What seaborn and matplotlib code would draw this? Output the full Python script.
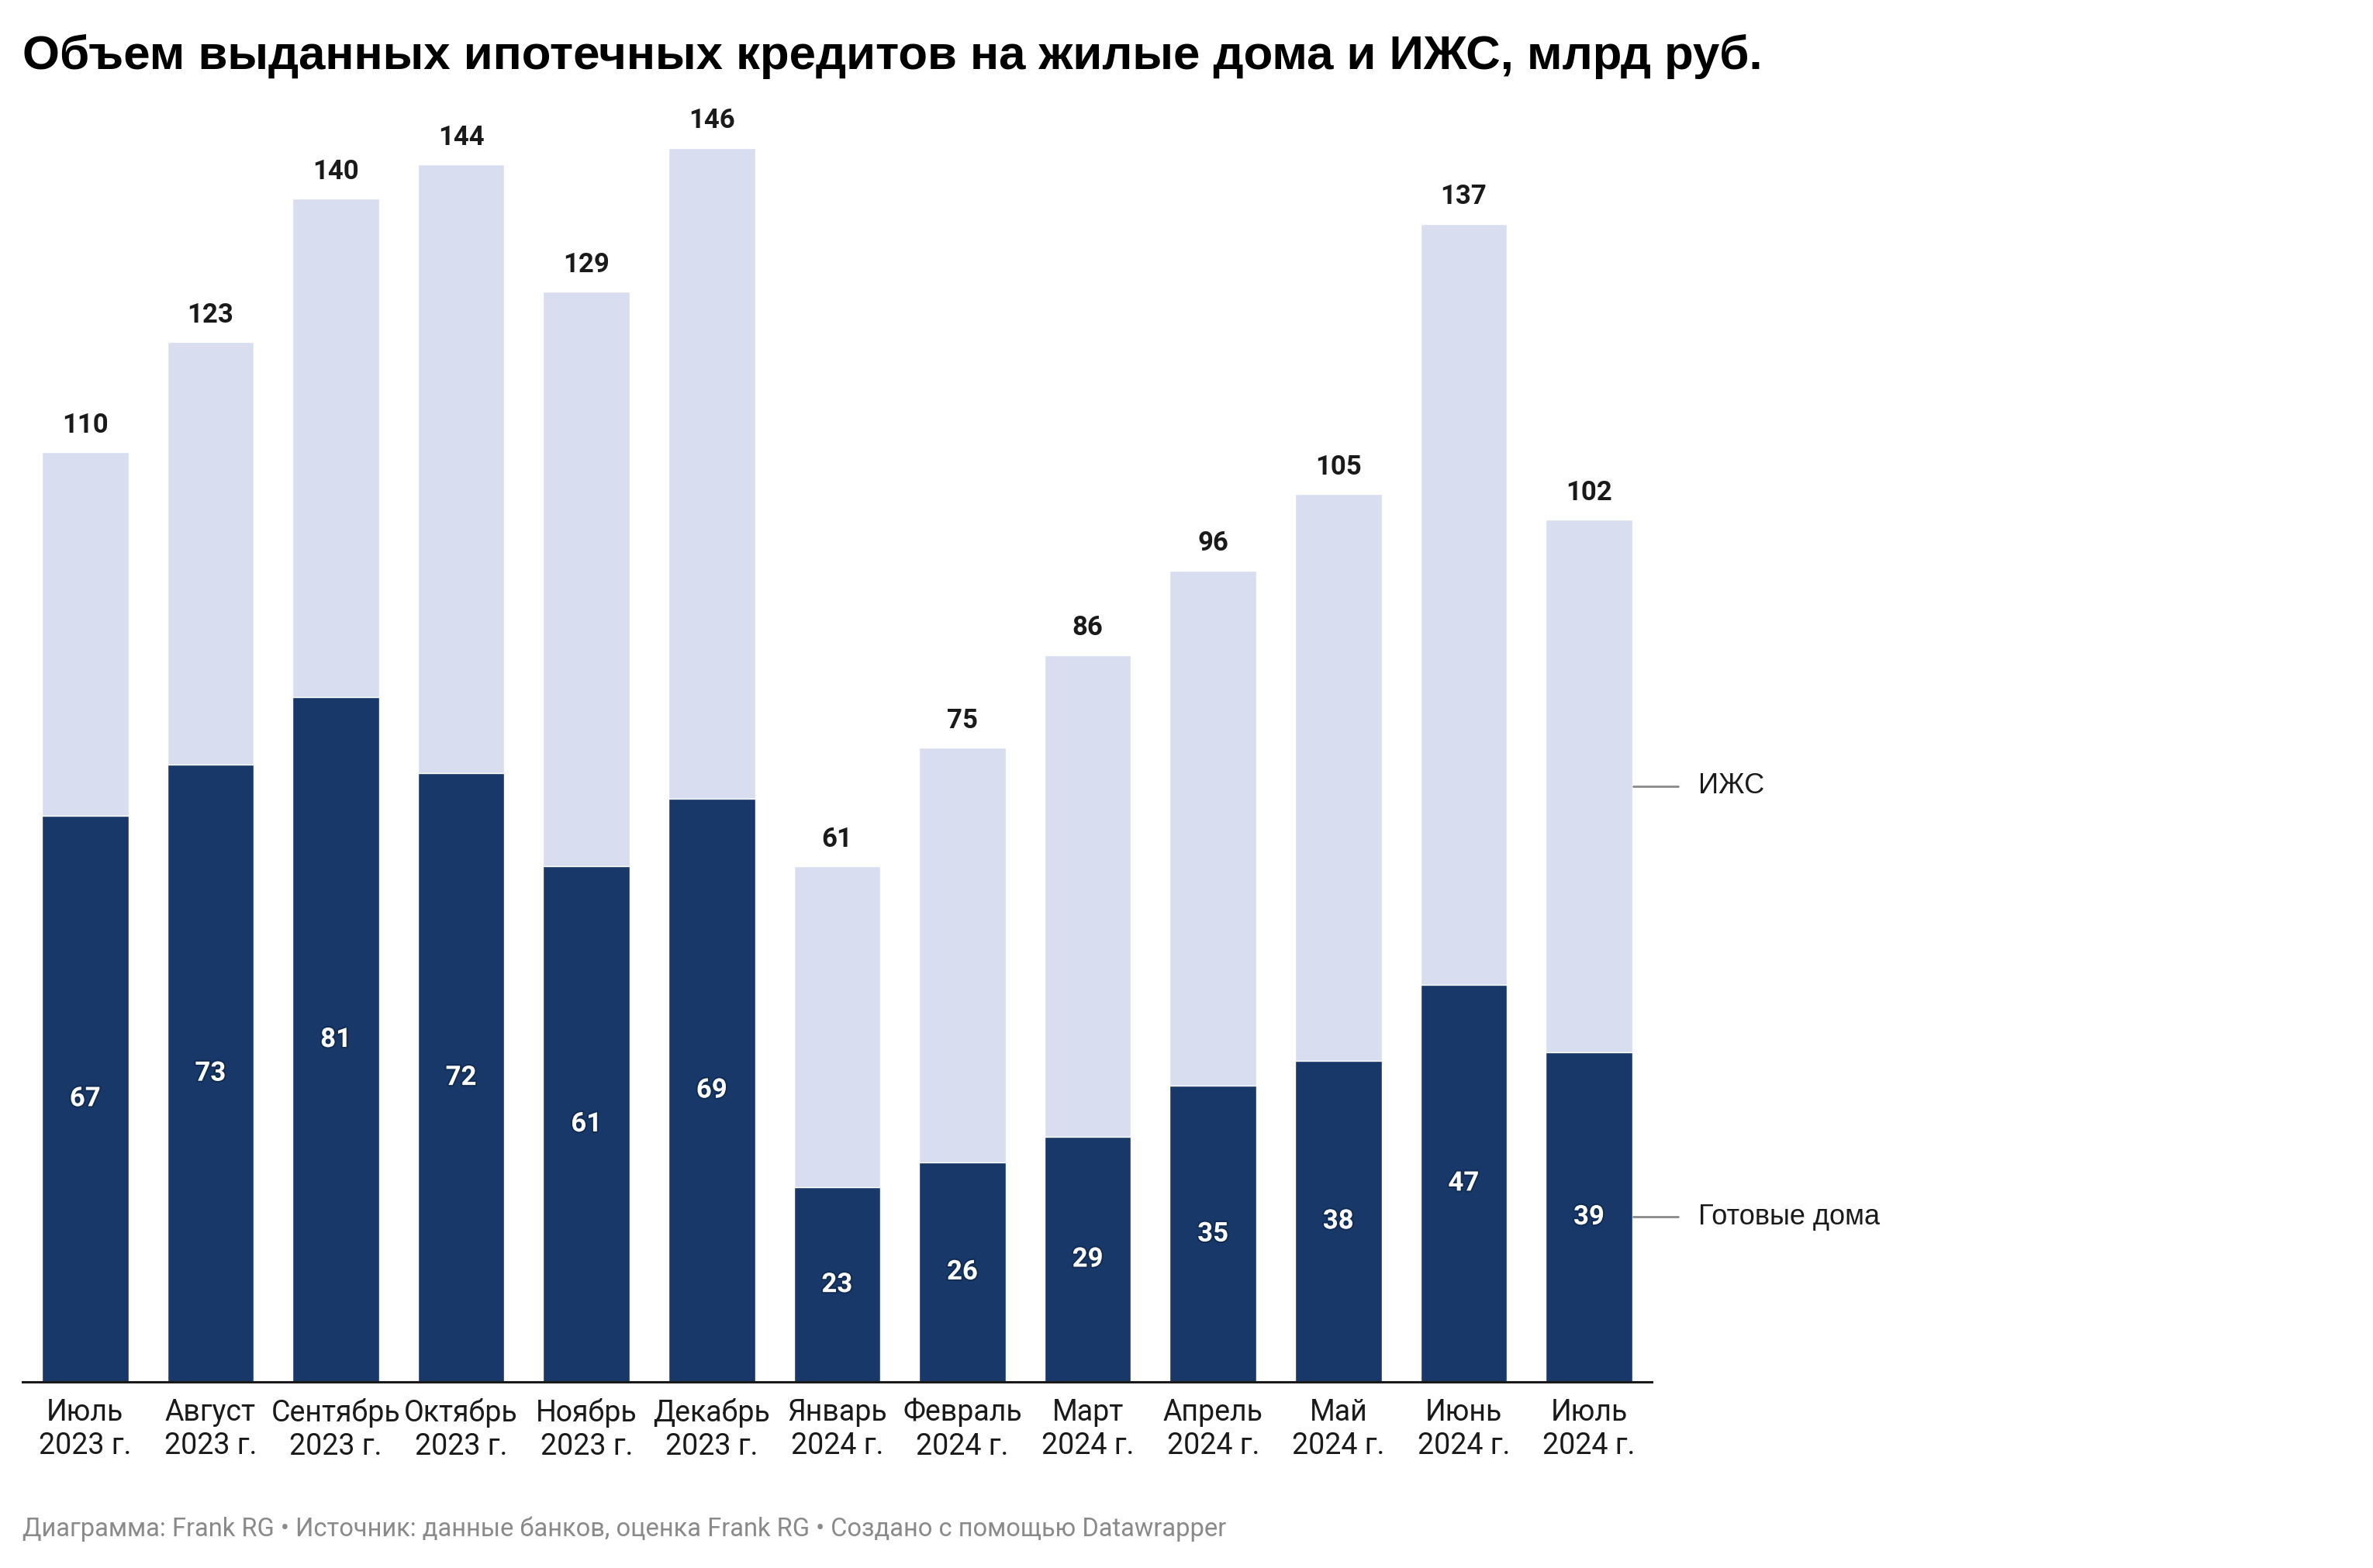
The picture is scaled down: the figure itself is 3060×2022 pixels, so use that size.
import matplotlib
matplotlib.use("Agg")
import matplotlib.pyplot as plt
import matplotlib.patheffects as pe
import pandas as pd
import seaborn as sns

# ── data ─────────────────────────────────────────────────────────────────────
months = ["Июль\n2023 г.", "Август\n2023 г.", "Сентябрь\n2023 г.", "Октябрь\n2023 г.",
          "Ноябрь\n2023 г.", "Декабрь\n2023 г.", "Январь\n2024 г.", "Февраль\n2024 г.",
          "Март\n2024 г.", "Апрель\n2024 г.", "Май\n2024 г.", "Июнь\n2024 г.",
          "Июль\n2024 г."]
total = [110, 123, 140, 144, 129, 146, 61, 75, 86, 96, 105, 137, 102]
ready = [67, 73, 81, 72, 61, 69, 23, 26, 29, 35, 38, 47, 39]
series_names = ["ИЖС", "Готовые дома"]

title = "Объем выданных ипотечных кредитов на жилые дома и ИЖС, млрд руб."
footer = ("Диаграмма: Frank RG • Источник: данные банков, оценка Frank RG • "
          "Создано с помощью Datawrapper")

# ── style ────────────────────────────────────────────────────────────────────
C_DARK = "#18386a"
C_LIGHT = "#d8deef"
C_TEXT = "#1a1a1a"
C_GREY = "#8a8a8a"

sns.set_theme(style="white")
plt.rcParams["font.family"] = ["Roboto", "DejaVu Sans"]

df = pd.DataFrame({"month": months, "total": total, "ready": ready})

fig = plt.figure(figsize=(30.6, 20.22), dpi=100)
ax = fig.add_axes([0.0095, 0.1187, 0.6865, 0.8086])

# light bar = full total, dark bar drawn on top = ready-built houses
sns.barplot(data=df, x="month", y="total", color=C_LIGHT, width=0.69,
            saturation=1, ax=ax)
sns.barplot(data=df, x="month", y="ready", color=C_DARK, width=0.69,
            saturation=1, ax=ax)

ax.set_xlim(-0.5, len(months) - 0.5)
ax.set_ylim(0, 150)
ax.set_xlabel("")
ax.set_ylabel("")
ax.set_yticks([])
for s in ["top", "right", "left"]:
    ax.spines[s].set_visible(False)
ax.spines["bottom"].set_color(C_TEXT)
ax.spines["bottom"].set_linewidth(2.2)
ax.tick_params(axis="x", length=0, pad=15, labelsize=27, labelcolor=C_TEXT)
for lbl in ax.get_xticklabels():
    lbl.set_linespacing(1.22)

# totals above bars
for i, v in enumerate(total):
    ax.annotate(f"{v}", xy=(i, v), xytext=(0, 25), textcoords="offset points",
                ha="center", va="center", fontsize=25, fontweight="bold",
                color=C_TEXT)

# values inside dark segments
halo = [pe.withStroke(linewidth=3, foreground="#0d2445", alpha=0.6)]
for i, v in enumerate(ready):
    ax.text(i, v / 2, f"{v}", ha="center", va="center", fontsize=25,
            fontweight="bold", color="white", path_effects=halo)

# direct labels next to the last bar
last = len(months) - 1
mids = [(ready[last] + total[last]) / 2, ready[last] / 2]
for name, y in zip(series_names, mids):
    ax.plot([last + 0.35, last + 0.71], [y, y], color=C_GREY, lw=2,
            clip_on=False)
    ax.text(last + 0.87, y, name, ha="left", va="center", fontsize=26,
            color=C_TEXT, family=["Liberation Sans", "DejaVu Sans"])

fig.text(0.0095, 0.964, title, ha="left", va="center", fontsize=44.5,
         fontweight="bold", color="black",
         family=["Liberation Sans", "DejaVu Sans"])
fig.text(0.0095, 0.025, footer, ha="left", va="center", fontsize=23.5,
         color=C_GREY)

fig.savefig("out.png", dpi=100, facecolor="white")
